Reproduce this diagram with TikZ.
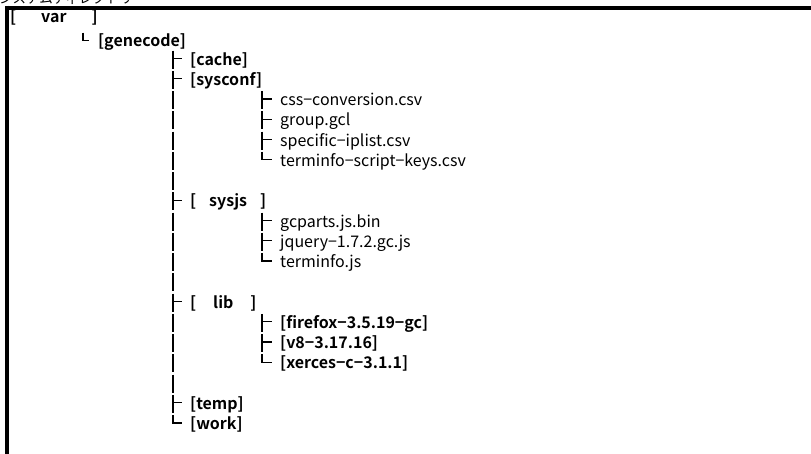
\documentclass[tikz,border=0pt]{standalone}
\usepackage{fontspec}
\setmainfont{Noto Sans CJK JP}[BoldFont={Noto Sans CJK JP Bold}]
\usetikzlibrary{calc}
\newcommand\treebar[2]{\draw[treeline] ($(#1)+(#2,-14.5)$) -- ($(#1)+(#2,3.5)$);}
\newcommand\treetee[2]{\draw[treeline] ($(#1)+(#2,-14.5)$) -- ($(#1)+(#2,3.5)$) ($(#1)+(#2,-6.5)$) -- ($(#1)+(-8,-6.5)$);}
\newcommand\treeelbow[2]{\draw[treeline] ($(#1)+(#2,-14.5)$) |- ($(#1)+(-8,-6.5)$);}
\begin{document}
\begin{tikzpicture}[x=1pt,y=-1pt,
  treeline/.style={line width=1.3pt},
  frameline/.style={line width=4pt},
  dirname/.style={anchor=base west, inner sep=0pt, font=\fontsize{16}{19}\selectfont\bfseries},
  filename/.style={anchor=base west, inner sep=0pt, font=\fontsize{16}{19}\selectfont},
  titletext/.style={anchor=base west, inner sep=0pt, font=\fontsize{13.5}{16}\selectfont}]
\useasboundingbox (0,0) rectangle (811,453);
\clip (0,0) rectangle (811,453);
\fill[white] (0,0) rectangle (811,453);
% clipped title
\node[titletext] (title) at (-1,3.5) {システムディレクトリ};
% frame
\draw[frameline] (5,7.5) -- (811,7.5);
\draw[frameline] (6.7,5.5) -- (6.7,460);
% root
\node[dirname] (var) at (10,22.5) {[\hspace{25pt}var\hspace{25pt}]};
\node[dirname] (genecode) at (98,46) {[genecode]};
\draw[treeline] ($(genecode.base west)+(-15,-13.5)$) |- ($(genecode.base west)+(-9,-5.5)$);
% level 2
\node[dirname] (cache) at (190,65) {[cache]};
\node[dirname] (sysconf) at (190,85.25) {[sysconf]};
\node[filename] (css) at (280,105.5) {css−conversion.csv};
\node[filename] (group) at (280,125.75) {group.gcl};
\node[filename] (specific) at (280,146) {specific−iplist.csv};
\node[filename] (tskeys) at (280,166.25) {terminfo−script−keys.csv};
\coordinate (blankA) at (190,186.5);
\node[dirname] (sysjs) at (190,206.75) {[\hspace{13pt}sysjs\hspace{13pt}]};
\node[filename] (gcparts) at (280,227) {gcparts.js.bin};
\node[filename] (jquery) at (280,247.25) {jquery−1.7.2.gc.js};
\node[filename] (tinfo) at (280,267.5) {terminfo.js};
\coordinate (blankB) at (190,287.75);
\node[dirname] (lib) at (190,308) {[\hspace{17pt}lib\hspace{17pt}]};
\node[dirname] (firefox) at (280,328.25) {[firefox−3.5.19−gc]};
\node[dirname] (veight) at (280,348.5) {[v8−3.17.16]};
\node[dirname] (xerces) at (280,368.75) {[xerces−c−3.1.1]};
\coordinate (blankC) at (190,389);
\node[dirname] (temp) at (190,409.25) {[temp]};
\node[dirname] (work) at (190,429.5) {[work]};
% level-2 connectors
\treetee{cache.base west}{-17}
\treetee{sysconf.base west}{-17}
\treebar{css.base west}{-107}
\treebar{group.base west}{-107}
\treebar{specific.base west}{-107}
\treebar{tskeys.base west}{-107}
\treebar{blankA}{-17}
\treetee{sysjs.base west}{-17}
\treebar{gcparts.base west}{-107}
\treebar{jquery.base west}{-107}
\treebar{tinfo.base west}{-107}
\treebar{blankB}{-17}
\treetee{lib.base west}{-17}
\treebar{firefox.base west}{-107}
\treebar{veight.base west}{-107}
\treebar{xerces.base west}{-107}
\treebar{blankC}{-17}
\treetee{temp.base west}{-17}
\treeelbow{work.base west}{-17}
% level-3 connectors
\treetee{css.base west}{-18}
\treetee{group.base west}{-18}
\treetee{specific.base west}{-18}
\treeelbow{tskeys.base west}{-18}
\treetee{gcparts.base west}{-18}
\treetee{jquery.base west}{-18}
\treeelbow{tinfo.base west}{-18}
\treetee{firefox.base west}{-18}
\treetee{veight.base west}{-18}
\treeelbow{xerces.base west}{-18}
\end{tikzpicture}
\end{document}
